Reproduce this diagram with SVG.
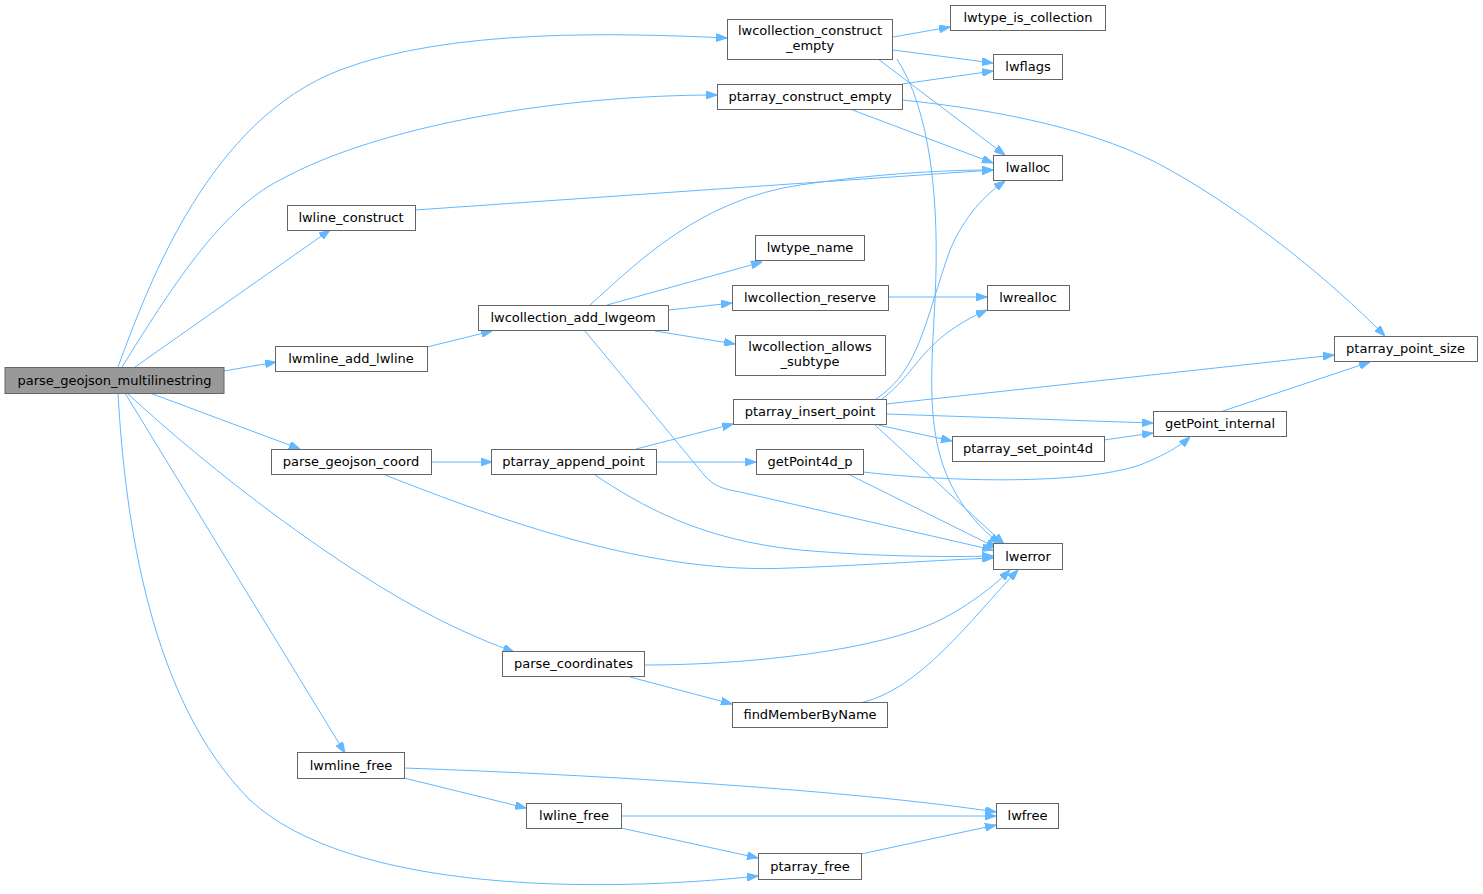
<svg xmlns="http://www.w3.org/2000/svg" width="1483" height="894" viewBox="0 0 1483 894">
<style>
.n rect{fill:#fff;stroke:#666;stroke-width:1}
.n.root rect{fill:#999}
.n text{font-family:"DejaVu Sans",sans-serif;font-size:13px;fill:#000;text-anchor:middle}
#edges path{fill:none;stroke:#63b8ff;stroke-width:1;marker-end:url(#a)}
</style>
<defs>
<marker id="a" viewBox="0 0 11 8" refX="11" refY="4" markerWidth="11" markerHeight="8" orient="auto" markerUnits="userSpaceOnUse">
<path d="M0,0L11,4L0,8z" fill="#63b8ff" stroke="#63b8ff" stroke-width="1"/>
</marker>
</defs>
<rect width="1483" height="894" fill="#fff"/>
<g id="edges">
<path d="M118,367 C150,280 210,120 340,70 C450,28 620,33 727,38"/>
<path d="M122,367 C170,290 220,210 280,180 C380,125 560,95 717,95"/>
<path d="M135,367 L330,230"/>
<path d="M224,371 L276,362"/>
<path d="M150,393 L300,449"/>
<path d="M127,393 C210,470 340,570 440,620 C470,635 495,645 514,652"/>
<path d="M125,393 L345,753"/>
<path d="M118,393 C125,520 150,700 250,800 C350,893 600,893 758,876"/>
<path d="M893,37 L950,27"/>
<path d="M893,50 L993,63"/>
<path d="M878,59 L1005,155"/>
<path d="M897,59 C930,110 940,200 935,300 C930,400 920,480 1000,544"/>
<path d="M902,84 L993,71"/>
<path d="M850,109 L993,163"/>
<path d="M902,100 C1000,110 1100,130 1170,170 C1250,215 1330,280 1385,336"/>
<path d="M415,210 L993,170"/>
<path d="M590,305 C640,260 700,200 800,185 C880,173 950,170 993,170"/>
<path d="M607,305 L762,262"/>
<path d="M669,310 L732,303"/>
<path d="M655,331 L735,344"/>
<path d="M585,331 L700,470 C712,485 718,488 740,492 L993,550"/>
<path d="M888,297 L987,297"/>
<path d="M427,347 L492,331"/>
<path d="M886,404 L1334,355"/>
<path d="M886,414 L1153,423"/>
<path d="M878,425 L952,441"/>
<path d="M875,425 L1004,544"/>
<path d="M876,399 C920,370 925,320 950,250 C965,215 985,195 1005,181"/>
<path d="M882,399 C920,370 920,340 987,310"/>
<path d="M1220,412 L1370,362"/>
<path d="M1104,440 L1153,433"/>
<path d="M431,462 L492,462"/>
<path d="M385,475 C500,520 650,575 790,568 C870,565 940,560 993,558"/>
<path d="M636,449 L733,424"/>
<path d="M656,462 L756,462"/>
<path d="M595,475 C640,505 700,540 800,550 C880,557 950,557 993,556"/>
<path d="M863,472 C950,482 1080,485 1140,465 C1165,455 1180,446 1190,437"/>
<path d="M850,475 L997,548"/>
<path d="M645,665 C750,665 880,650 940,620 C970,605 995,585 1010,570"/>
<path d="M630,677 L732,704"/>
<path d="M860,703 C920,690 970,620 1018,570"/>
<path d="M404,768 C600,775 850,790 996,812"/>
<path d="M404,778 L526,808"/>
<path d="M621,816 L996,816"/>
<path d="M621,828 L758,858"/>
<path d="M861,854 L996,825"/>
</g>
<g id="n1" class="n root"><rect x="5" y="367.5" width="219" height="26"/><text x="114.5" y="385">parse_geojson_multilinestring</text></g>
<g id="n2" class="n"><rect x="727.5" y="19.5" width="165" height="40"/><text x="810" y="35">lwcollection_construct</text><text x="810" y="50">_empty</text></g>
<g id="n3" class="n"><rect x="950.5" y="5.5" width="155" height="25"/><text x="1028" y="22">lwtype_is_collection</text></g>
<g id="n4" class="n"><rect x="993.5" y="54.5" width="69" height="25"/><text x="1028" y="71">lwflags</text></g>
<g id="n5" class="n"><rect x="717.5" y="84.5" width="185" height="25"/><text x="810" y="101">ptarray_construct_empty</text></g>
<g id="n6" class="n"><rect x="993.5" y="155.5" width="69" height="25"/><text x="1028" y="172">lwalloc</text></g>
<g id="n7" class="n"><rect x="287.5" y="205.5" width="128" height="25"/><text x="351" y="222">lwline_construct</text></g>
<g id="n8" class="n"><rect x="755.5" y="235.5" width="109" height="25"/><text x="810" y="252">lwtype_name</text></g>
<g id="n9" class="n"><rect x="732.5" y="285.5" width="156" height="25"/><text x="810" y="302">lwcollection_reserve</text></g>
<g id="n10" class="n"><rect x="987.5" y="285.5" width="82" height="25"/><text x="1028" y="302">lwrealloc</text></g>
<g id="n11" class="n"><rect x="478.5" y="305.5" width="190" height="25"/><text x="573" y="322">lwcollection_add_lwgeom</text></g>
<g id="n12" class="n"><rect x="275.5" y="346.5" width="152" height="25"/><text x="351" y="363">lwmline_add_lwline</text></g>
<g id="n13" class="n"><rect x="735.5" y="335.5" width="150" height="40"/><text x="810" y="351">lwcollection_allows</text><text x="810" y="366">_subtype</text></g>
<g id="n14" class="n"><rect x="1334.5" y="336.5" width="143" height="25"/><text x="1405.5" y="353">ptarray_point_size</text></g>
<g id="n15" class="n"><rect x="733.5" y="399.5" width="153" height="25"/><text x="810" y="416">ptarray_insert_point</text></g>
<g id="n16" class="n"><rect x="1153.5" y="411.5" width="133" height="25"/><text x="1220" y="428">getPoint_internal</text></g>
<g id="n17" class="n"><rect x="952.5" y="436.5" width="152" height="25"/><text x="1028" y="453">ptarray_set_point4d</text></g>
<g id="n18" class="n"><rect x="271.5" y="449.5" width="160" height="25"/><text x="351" y="466">parse_geojson_coord</text></g>
<g id="n19" class="n"><rect x="491.5" y="449.5" width="165" height="25"/><text x="573.5" y="466">ptarray_append_point</text></g>
<g id="n20" class="n"><rect x="756.5" y="449.5" width="107" height="25"/><text x="810" y="466">getPoint4d_p</text></g>
<g id="n21" class="n"><rect x="993.5" y="543.5" width="69" height="26"/><text x="1028" y="561">lwerror</text></g>
<g id="n22" class="n"><rect x="502.5" y="651.5" width="142" height="25"/><text x="573.5" y="668">parse_coordinates</text></g>
<g id="n23" class="n"><rect x="732.5" y="702.5" width="155" height="25"/><text x="810" y="719">findMemberByName</text></g>
<g id="n24" class="n"><rect x="297.5" y="752.5" width="107" height="26"/><text x="351" y="770">lwmline_free</text></g>
<g id="n25" class="n"><rect x="526.5" y="803.5" width="95" height="25"/><text x="574" y="820">lwline_free</text></g>
<g id="n26" class="n"><rect x="996.5" y="803.5" width="62" height="25"/><text x="1027.5" y="820">lwfree</text></g>
<g id="n27" class="n"><rect x="758.5" y="853.5" width="103" height="26"/><text x="810" y="871">ptarray_free</text></g>
</svg>
